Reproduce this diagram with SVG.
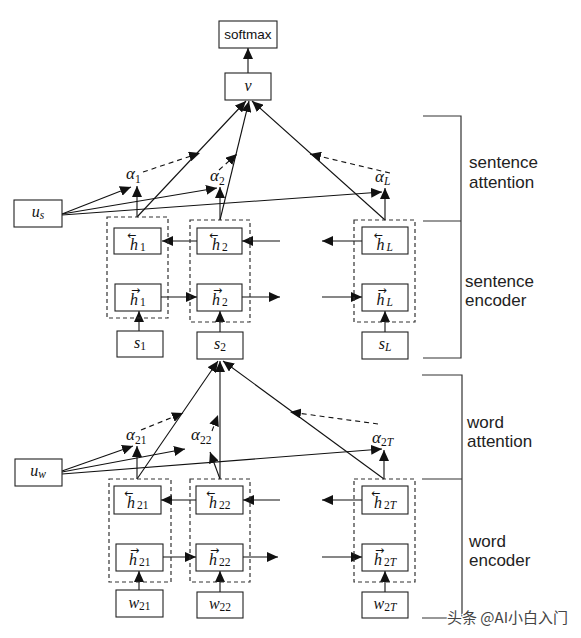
<svg xmlns="http://www.w3.org/2000/svg" width="581" height="638" viewBox="0 0 581 638">
<defs>
<marker id="ah" markerUnits="userSpaceOnUse" markerWidth="12" markerHeight="10" refX="11" refY="5" orient="auto">
<path d="M0,0 L11,5 L0,10 z" fill="#111"/>
</marker>
<style>
.box{fill:#fff;stroke:#222;stroke-width:1.1}
.dbox{fill:none;stroke:#333;stroke-width:1.2;stroke-dasharray:4 3}
.c{stroke:#111;stroke-width:1.1;fill:none;marker-end:url(#ah)}
.d{stroke:#111;stroke-width:1.1;fill:none;stroke-dasharray:5 4;marker-end:url(#ah)}
.br{stroke:#333;stroke-width:1.2;fill:none}
.m{font-family:"Liberation Serif","DejaVu Serif",serif;font-style:italic;font-size:16px;fill:#111}
.a{font-size:17px}
.s{font-size:11.5px;font-style:normal}
.si{font-size:11.5px;font-style:italic}
.acc{font-family:"DejaVu Sans",sans-serif;font-style:normal;font-size:11px}
.lab{font-family:"Liberation Sans",Arial,sans-serif;font-size:17px;fill:#222}
.sm{font-family:"Liberation Sans",Arial,sans-serif;font-size:13.5px;fill:#111}
</style>
</defs>
<rect width="581" height="638" fill="#fff"/>

<g id="connectors">
<line class="c" x1="248" y1="73" x2="248" y2="48"/>
<line class="c" x1="137" y1="217" x2="246" y2="101"/>
<line class="c" x1="220" y1="220" x2="249" y2="101"/>
<line class="c" x1="385" y1="220" x2="252" y2="101"/>
<line class="d" x1="143" y1="172" x2="200" y2="153"/>
<line class="d" x1="219" y1="170" x2="237" y2="154"/>
<line class="d" x1="390" y1="173" x2="310" y2="154"/>
<line class="c" x1="62" y1="214" x2="131" y2="187"/>
<line class="c" x1="62" y1="214" x2="217" y2="188"/>
<line class="c" x1="62" y1="215" x2="382" y2="192"/>
<line class="c" x1="137" y1="217" x2="137" y2="186"/>
<line class="c" x1="220" y1="220" x2="220" y2="187"/>
<line class="c" x1="385" y1="220" x2="385" y2="188"/>
<line class="c" x1="197" y1="241" x2="162" y2="241"/>
<line class="c" x1="280" y1="241" x2="242" y2="241"/>
<line class="c" x1="161" y1="297" x2="197" y2="297"/>
<line class="c" x1="242" y1="297" x2="280" y2="297"/>
<line class="c" x1="362" y1="241" x2="322" y2="241"/>
<line class="c" x1="322" y1="297" x2="362" y2="297"/>
<line class="c" x1="139" y1="331" x2="139" y2="311"/>
<line class="c" x1="220" y1="332" x2="220" y2="311"/>
<line class="c" x1="385" y1="332" x2="385" y2="311"/>

<line class="c" x1="137" y1="479" x2="218" y2="361"/>
<line class="c" x1="220" y1="479" x2="220" y2="361"/>
<line class="c" x1="384" y1="479" x2="223" y2="361"/>
<line class="d" x1="141" y1="430" x2="183" y2="413"/>
<line class="d" x1="212" y1="431" x2="218" y2="415"/>
<line class="d" x1="378" y1="424" x2="290" y2="412"/>
<line class="c" x1="62" y1="471" x2="133" y2="446"/>
<line class="c" x1="62" y1="472" x2="185" y2="449"/>
<line class="c" x1="62" y1="474" x2="382" y2="449"/>
<line class="c" x1="137" y1="479" x2="137" y2="446"/>
<line class="c" x1="220" y1="479" x2="210" y2="452"/>
<line class="c" x1="384" y1="479" x2="384" y2="450"/>
<line class="c" x1="196" y1="500" x2="161" y2="500"/>
<line class="c" x1="280" y1="500" x2="243" y2="500"/>
<line class="c" x1="163" y1="557" x2="196" y2="557"/>
<line class="c" x1="243" y1="557" x2="278" y2="557"/>
<line class="c" x1="362" y1="500" x2="322" y2="500"/>
<line class="c" x1="322" y1="557" x2="362" y2="557"/>
<line class="c" x1="139" y1="590" x2="139" y2="571"/>
<line class="c" x1="220" y1="592" x2="220" y2="571"/>
<line class="c" x1="385" y1="592" x2="385" y2="571"/>
</g>

<g id="brackets">
<path class="br" d="M423,116 H461 V358 H423 M423,221 H461"/>
<path class="br" d="M422,375 H462 V618 H422 M422,479 H462"/>
<text class="lab" x="469" y="168">sentence</text>
<text class="lab" x="469" y="188">attention</text>
<text class="lab" x="465" y="287">sentence</text>
<text class="lab" x="465" y="306">encoder</text>
<text class="lab" x="467" y="428">word</text>
<text class="lab" x="467" y="447">attention</text>
<text class="lab" x="469" y="547">word</text>
<text class="lab" x="469" y="566">encoder</text>
</g>

<g id="softmax"><rect class="box" x="219" y="21" width="58" height="27"/><text class="sm" x="248" y="39" text-anchor="middle">softmax</text></g>
<g id="v"><rect class="box" x="225" y="73" width="46" height="27"/><text class="m" x="248" y="91" text-anchor="middle">v</text></g>

<g id="alpha1"><text class="m a" x="126" y="179">α<tspan class="s" dy="4">1</tspan></text></g>
<g id="alpha2"><text class="m a" x="210" y="181">α<tspan class="s" dy="4">2</tspan></text></g>
<g id="alphaL"><text class="m a" x="375" y="182">α<tspan class="si" dy="3">L</tspan></text></g>

<g id="us"><rect class="box" x="14" y="200" width="48" height="27"/><text class="m" x="38" y="217" text-anchor="middle">u<tspan class="si" dy="2">s</tspan></text></g>

<g id="senc1"><rect class="dbox" x="107" y="217" width="61" height="101"/></g>
<g id="senc2"><rect class="dbox" x="190" y="220" width="60" height="102"/></g>
<g id="sencL"><rect class="dbox" x="354" y="220" width="61" height="102"/></g>

<g id="h1b"><rect class="box" x="114" y="228" width="47" height="26"/><text class="m"><tspan class="acc" x="127" y="238.5">←</tspan><tspan x="130" y="250">h</tspan><tspan class="s" dx="2" dy="1">1</tspan></text></g>
<g id="h1f"><rect class="box" x="115" y="284" width="46" height="27"/><text class="m"><tspan class="acc" x="131" y="293.5">→</tspan><tspan x="130" y="305">h</tspan><tspan class="s" dx="2" dy="1">1</tspan></text></g>
<g id="h2b"><rect class="box" x="197" y="228" width="45" height="26"/><text class="m"><tspan class="acc" x="209" y="238.5">←</tspan><tspan x="212" y="250">h</tspan><tspan class="s" dx="2" dy="1">2</tspan></text></g>
<g id="h2f"><rect class="box" x="197" y="284" width="45" height="27"/><text class="m"><tspan class="acc" x="213" y="293.5">→</tspan><tspan x="212" y="305">h</tspan><tspan class="s" dx="2" dy="1">2</tspan></text></g>
<g id="hLb"><rect class="box" x="362" y="227" width="46" height="27"/><text class="m"><tspan class="acc" x="373.5" y="238.5">←</tspan><tspan x="376.5" y="250">h</tspan><tspan class="si" dx="2" dy="1">L</tspan></text></g>
<g id="hLf"><rect class="box" x="362" y="284" width="46" height="27"/><text class="m"><tspan class="acc" x="377.5" y="293.5">→</tspan><tspan x="376.5" y="305">h</tspan><tspan class="si" dx="2" dy="1">L</tspan></text></g>

<g id="s1"><rect class="box" x="117" y="331" width="46" height="26"/><text class="m" x="140" y="348" text-anchor="middle">s<tspan class="s" dy="2">1</tspan></text></g>
<g id="s2"><rect class="box" x="197" y="332" width="46" height="27"/><text class="m" x="220" y="349" text-anchor="middle">s<tspan class="s" dy="2">2</tspan></text></g>
<g id="sL"><rect class="box" x="362" y="332" width="46" height="27"/><text class="m" x="385" y="349" text-anchor="middle">s<tspan class="si" dy="2">L</tspan></text></g>

<g id="alpha21"><text class="m a" x="126" y="440">α<tspan class="s" dy="4">21</tspan></text></g>
<g id="alpha22"><text class="m a" x="191" y="440">α<tspan class="s" dy="4">22</tspan></text></g>
<g id="alpha2T"><text class="m a" x="372" y="443">α<tspan class="s" dy="3">2</tspan><tspan class="si">T</tspan></text></g>

<g id="uw"><rect class="box" x="15" y="459" width="47" height="27"/><text class="m" x="38" y="476" text-anchor="middle">u<tspan class="si" dy="2">w</tspan></text></g>

<g id="wenc1"><rect class="dbox" x="109" y="479" width="62" height="103"/></g>
<g id="wenc2"><rect class="dbox" x="190" y="479" width="60" height="103"/></g>
<g id="wencT"><rect class="dbox" x="354" y="479" width="61" height="103"/></g>

<g id="h21b"><rect class="box" x="114" y="486" width="47" height="28"/><text class="m"><tspan class="acc" x="124" y="496.5">←</tspan><tspan x="127" y="508">h</tspan><tspan class="s" dx="2" dy="1">21</tspan></text></g>
<g id="h21f"><rect class="box" x="116" y="544" width="47" height="27"/><text class="m"><tspan class="acc" x="130" y="553.5">→</tspan><tspan x="129" y="565">h</tspan><tspan class="s" dx="2" dy="1">21</tspan></text></g>
<g id="h22b"><rect class="box" x="196" y="486" width="47" height="28"/><text class="m"><tspan class="acc" x="206" y="496.5">←</tspan><tspan x="209" y="508">h</tspan><tspan class="s" dx="2" dy="1">22</tspan></text></g>
<g id="h22f"><rect class="box" x="196" y="544" width="47" height="27"/><text class="m"><tspan class="acc" x="210" y="553.5">→</tspan><tspan x="209" y="565">h</tspan><tspan class="s" dx="2" dy="1">22</tspan></text></g>
<g id="h2Tb"><rect class="box" x="362" y="486" width="46" height="28"/><text class="m"><tspan class="acc" x="371" y="496.5">←</tspan><tspan x="374" y="508">h</tspan><tspan class="s" dx="2" dy="1">2</tspan><tspan class="si">T</tspan></text></g>
<g id="h2Tf"><rect class="box" x="362" y="544" width="46" height="27"/><text class="m"><tspan class="acc" x="375" y="553.5">→</tspan><tspan x="374" y="565">h</tspan><tspan class="s" dx="2" dy="1">2</tspan><tspan class="si">T</tspan></text></g>

<g id="w21"><rect class="box" x="116" y="590" width="47" height="27"/><text class="m" x="139.5" y="608" text-anchor="middle">w<tspan class="s" dy="2">21</tspan></text></g>
<g id="w22"><rect class="box" x="197" y="592" width="46" height="26"/><text class="m" x="220" y="609" text-anchor="middle">w<tspan class="s" dy="2">22</tspan></text></g>
<g id="w2T"><rect class="box" x="362" y="592" width="46" height="26"/><text class="m" x="385" y="609" text-anchor="middle">w<tspan class="s" dy="2">2</tspan><tspan class="si">T</tspan></text></g>

<g id="watermark"><text x="447" y="623" font-family="'Noto Sans CJK SC',sans-serif" font-size="15" fill="#444" stroke="#fff" stroke-width="2" paint-order="stroke">头条 @AI小白入门</text></g>
</svg>
